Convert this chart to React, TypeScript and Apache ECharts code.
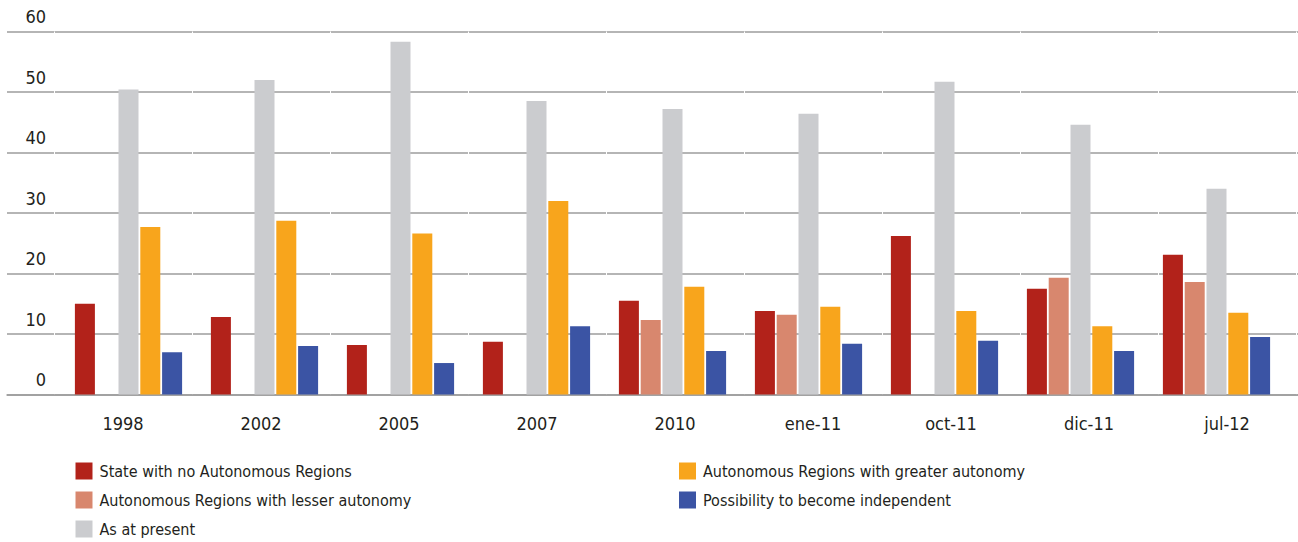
import React, { useEffect, useRef } from "react";
import * as echarts from "echarts";

// Survey waves along the horizontal axis
const categories = ["1998", "2002", "2005", "2007", "2010", "ene-11", "oct-11", "dic-11", "jul-12"];

// Share of respondents (%) per preferred model of territorial organisation
const noAutonomousRegions = [15.0, 12.8, 8.2, 8.7, 15.5, 13.8, 26.2, 17.5, 23.1];
const lesserAutonomy = [null, null, null, null, 12.3, 13.2, null, 19.3, 18.6];
const asAtPresent = [50.4, 52.0, 58.3, 48.5, 47.2, 46.4, 51.7, 44.6, 34.0];
const greaterAutonomy = [27.7, 28.7, 26.6, 32.0, 17.8, 14.5, 13.8, 11.3, 13.5];
const independence = [7.0, 8.0, 5.2, 11.3, 7.2, 8.4, 8.9, 7.2, 9.5];

const yTicks = { min: 0, max: 60, interval: 10 };

const seriesNames = [
  "State with no Autonomous Regions",
  "Autonomous Regions with lesser autonomy",
  "As at present",
  "Autonomous Regions with greater autonomy",
  "Possibility to become independent",
];
const seriesColors = ["#b2221a", "#d8876e", "#cbcccf", "#f8a51c", "#3b54a4"];
const seriesData = [noAutonomousRegions, lesserAutonomy, asAtPresent, greaterAutonomy, independence];

const FONT = "'DejaVu Sans Condensed', 'Liberation Sans Narrow', sans-serif";
const TEXT = "#231f20";

export default function App() {
  const ref = useRef<HTMLDivElement>(null);

  useEffect(() => {
    if (!ref.current) return;
    const chart = echarts.init(ref.current, null, { renderer: "svg" });

    const top = 31.5;
    const height = 363;

    chart.setOption({
      animation: false,
      backgroundColor: "#ffffff",
      textStyle: { fontFamily: FONT },
      grid: [
        // full-width frame: horizontal rules and value labels
        { left: 7, right: 0, top, height, containLabel: false },
        // bar area
        { left: 60.5, width: 1224, top, height, containLabel: false },
        // category labels
        { left: 54, width: 1242, top, height, containLabel: false },
      ],
      xAxis: [
        {
          gridIndex: 0,
          type: "category",
          data: [""],
          offset: 45.5,
          axisLine: { show: true, lineStyle: { color: "#9c9c9c", width: 1.5 } },
          axisTick: { show: false },
          axisLabel: { show: false },
          splitLine: { show: false },
        },
        {
          gridIndex: 1,
          type: "category",
          data: categories,
          show: false,
        },
        {
          gridIndex: 2,
          type: "category",
          data: categories,
          axisLine: { show: false },
          axisTick: { show: false },
          splitLine: { show: true, lineStyle: { color: "#ffffff", width: 1 } },
          axisLabel: {
            show: true,
            margin: 20,
            fontSize: 18,
            color: TEXT,
            fontFamily: FONT,
          },
        },
      ],
      yAxis: [
        {
          gridIndex: 0,
          type: "value",
          ...yTicks,
          axisLine: { show: false },
          axisTick: { show: false },
          splitLine: { show: true, lineStyle: { color: "#9c9c9c", width: 1.5 } },
          axisLabel: {
            inside: true,
            margin: 39,
            align: "right",
            verticalAlign: "bottom",
            padding: [0, 0, 6, 0],
            fontSize: 18,
            color: TEXT,
            fontFamily: FONT,
          },
        },
        { gridIndex: 1, type: "value", ...yTicks, show: false, splitLine: { show: false } },
        { gridIndex: 2, type: "value", ...yTicks, show: false, splitLine: { show: false } },
      ],
      legend: [
        {
          left: 75.5,
          top: 462.5,
          orient: "vertical",
          padding: 0,
          icon: "rect",
          itemWidth: 17,
          itemHeight: 17,
          itemGap: 12,
          data: [seriesNames[0], seriesNames[1], seriesNames[2]],
          textStyle: { fontSize: 16, color: TEXT, fontFamily: FONT, padding: [0, 0, 0, 2] },
        },
        {
          left: 679,
          top: 462.5,
          orient: "vertical",
          padding: 0,
          icon: "rect",
          itemWidth: 17,
          itemHeight: 17,
          itemGap: 12,
          data: [seriesNames[3], seriesNames[4]],
          textStyle: { fontSize: 16, color: TEXT, fontFamily: FONT, padding: [0, 0, 0, 2] },
        },
      ],
      series: seriesNames.map((name, i) => ({
        name,
        type: "bar",
        xAxisIndex: 1,
        yAxisIndex: 1,
        barWidth: 20,
        barGap: "9%",
        itemStyle: { color: seriesColors[i] },
        data: seriesData[i],
      })),
    });

    return () => chart.dispose();
  }, []);

  return (
    <div
      ref={ref}
      style={{ position: "fixed", left: 0, top: 0, width: 1298, height: 542, background: "#fff" }}
    />
  );
}
